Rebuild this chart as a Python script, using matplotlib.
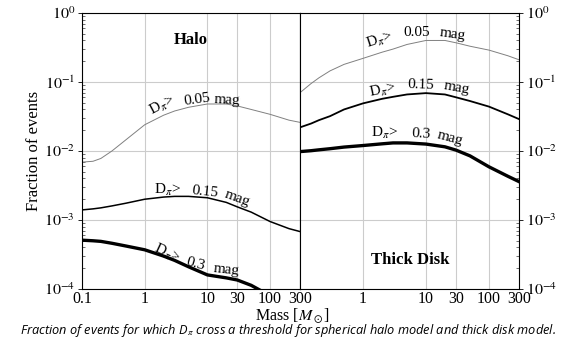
import matplotlib
matplotlib.use("Agg")
import matplotlib.pyplot as plt

plt.rcParams['font.family'] = ['Liberation Serif', 'DejaVu Serif']
plt.rcParams['mathtext.fontset'] = 'stix'

# Halo model
halo_mass = [0.1, 0.15, 0.2, 0.3, 0.5, 1, 2, 3, 5, 10, 20, 30, 50, 100, 200, 300]
halo_005 = [0.0069, 0.0071, 0.0078, 0.0100, 0.0145, 0.024, 0.033, 0.038, 0.043,
            0.048, 0.048, 0.045, 0.040, 0.034, 0.028, 0.026]
halo_015 = [0.0014, 0.00145, 0.0015, 0.0016, 0.00175, 0.0020, 0.00215, 0.0022,
            0.0022, 0.0021, 0.0018, 0.00155, 0.0013, 0.00095, 0.00075, 0.00068]
halo_03 = [0.00051, 0.00050, 0.00049, 0.00046, 0.00042, 0.00037, 0.00030, 0.00026,
           0.00021, 0.00016, 0.000145, 0.000135, 0.000113, 0.00008, 0.00006, 0.00005]

# Thick disk model
disk_mass = [0.1, 0.15, 0.2, 0.3, 0.5, 1, 2, 3, 5, 10, 20, 30, 50, 100, 200, 300]
disk_005 = [0.070, 0.095, 0.115, 0.145, 0.18, 0.22, 0.27, 0.30, 0.35, 0.40,
            0.40, 0.37, 0.33, 0.29, 0.24, 0.21]
disk_015 = [0.022, 0.025, 0.028, 0.032, 0.040, 0.049, 0.057, 0.061, 0.066, 0.069,
            0.066, 0.060, 0.053, 0.044, 0.034, 0.029]
disk_03 = [0.0098, 0.0101, 0.0104, 0.0108, 0.0114, 0.0120, 0.0127, 0.0131, 0.0131,
           0.0126, 0.0115, 0.0103, 0.0085, 0.0059, 0.0043, 0.0036]

left_ticks = [0.1, 1, 10, 30, 100, 300]
right_ticks = [1, 10, 30, 100, 300]
tick_labels_left = ['0.1', '1', '10', '30', '100', '300']
tick_labels_right = ['1', '10', '30', '100', '300']
y_ticks = [1e-4, 1e-3, 1e-2, 1e-1, 1e0]
y_labels = ['$10^{-4}$', '$10^{-3}$', '$10^{-2}$', '$10^{-1}$', '$10^{0}$']

W, H = 574, 338
fig = plt.figure(figsize=(W / 100, H / 100), dpi=100)
ax1 = fig.add_axes([82 / W, 1 - 289 / H, 218 / W, 276 / H])
ax2 = fig.add_axes([300 / W, 1 - 289 / H, 219 / W, 276 / H])


def setup(ax, xt, xl, side):
    ax.set_xscale('log')
    ax.set_yscale('log')
    ax.set_xlim(0.1, 300)
    ax.set_ylim(1e-4, 1)
    ax.set_xticks(xt)
    ax.set_xticklabels(xl, fontsize=11.5)
    ax.xaxis.set_minor_locator(matplotlib.ticker.NullLocator())
    ax.tick_params(axis='x', length=0, pad=1.5)
    ax.set_yticks(y_ticks)
    ax.set_yticklabels(y_labels, fontsize=11.5)
    ax.tick_params(axis='y', which='major', direction='out', length=3, width=0.6, pad=2)
    ax.tick_params(axis='y', which='minor', direction='in', length=2, width=0.4)
    if side == 'right':
        ax.yaxis.tick_right()
        ax.tick_params(axis='y', which='both', left=False)
    ax.grid(True, which='major', color='#cccccc', linewidth=0.8)
    ax.set_axisbelow(True)
    for s in ax.spines.values():
        s.set_linewidth(0.8)


setup(ax1, left_ticks, tick_labels_left, 'left')
setup(ax2, right_ticks, tick_labels_right, 'right')

ax1.plot(halo_mass, halo_005, color='#808080', lw=0.7)
ax1.plot(halo_mass, halo_015, color='black', lw=1.1)
ax1.plot(halo_mass, halo_03, color='black', lw=2.4)
ax2.plot(disk_mass, disk_005, color='#808080', lw=0.7)
ax2.plot(disk_mass, disk_015, color='black', lw=1.3)
ax2.plot(disk_mass, disk_03, color='black', lw=2.4)

ax1.set_ylabel('Fraction of events', fontsize=12, labelpad=1)


def px(x, y, s, rot=0, size=11, **kw):
    fig.text(x / W, 1 - y / H, s, rotation=rot, ha='center', va='center',
             rotation_mode='anchor', fontsize=size, **kw)


# curve labels, word by word along the lines
labels = [
    (162, 106, 28, 197, 100, 8, 227, 100, -3, '0.05'),
    (168, 190, 0, 205, 192, -6, 237, 198, -20, '0.15'),
    (167, 253, -25, 195, 264, -15, 226, 270, -6, '0.3'),
    (379, 40, 18, 417, 33, 0, 452, 34, -8, '0.05'),
    (383, 90, 12, 421, 85, -2, 457, 88, -10, '0.15'),
    (385, 133, 0, 421, 134, -3, 450, 138, -15, '0.3'),
]
for x0, y0, r0, x1, y1, r1, x2, y2, r2, v in labels:
    px(x0, y0, r'D$_\pi$>', r0)
    px(x1, y1, v, r1)
    px(x2, y2, 'mag', r2)

px(191, 40, 'Halo', size=12, fontweight='bold')
px(410, 260, 'Thick Disk', size=12, fontweight='bold')
px(293, 315.5, r'Mass [$M_\odot$]', size=11.5)

fig.text(288 / W, 1 - 330.5 / H,
         r'Fraction of events for which D$_\pi$ cross a threshold for spherical halo model and thick disk model.',
         ha='center', va='center', fontsize=9.2, style='italic',
         family=['Open Sans', 'DejaVu Sans'])

plt.savefig('out.png', dpi=100)
